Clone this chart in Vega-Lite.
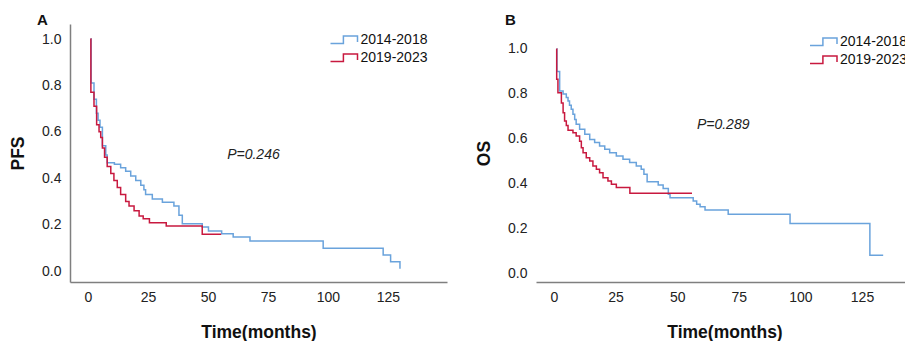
{
  "$schema": "https://vega.github.io/schema/vega-lite/v6.json",
  "padding": {"left": 9, "top": 13, "right": 0, "bottom": 0},
  "background": "white",
  "config": {
    "view": {"stroke": null},
    "font": "Liberation Sans",
    "axis": {"domainColor": "#7f7f7f", "domainWidth": 1.5, "ticks": false, "grid": false, "labelFont": "Liberation Sans", "labelFontSize": 14, "labelColor": "#222222", "titleFont": "Liberation Sans", "titleFontSize": 17.5, "titleFontWeight": "bold", "titleColor": "#111111"},
    "axisX": {"labelPadding": 8.5, "titlePadding": 19},
    "axisY": {"labelPadding": 9, "titlePadding": 14},
    "legend": {"orient": "none", "labelFont": "Liberation Sans", "labelFontSize": 14, "labelColor": "#111111", "symbolType": "M-2.25,0.6H-0.1V-0.65H2.25V0.35", "symbolSize": 144, "symbolStrokeWidth": 1.5, "symbolFillColor": "transparent", "labelOffset": 9.5, "rowPadding": 4, "padding": 0},
    "title": {"font": "Liberation Sans", "fontSize": 15, "fontWeight": "bold", "color": "#111111", "anchor": "start", "frame": "group"}
  },
  "datasets": {
    "pfs": [
      {"g": "2014-2018", "t": 1.0, "s": 1.0}, {"g": "2014-2018", "t": 1.3, "s": 0.81}, {"g": "2014-2018", "t": 2.5, "s": 0.74}, {"g": "2014-2018", "t": 3.5, "s": 0.68}, {"g": "2014-2018", "t": 4.2, "s": 0.65}, {"g": "2014-2018", "t": 5, "s": 0.62}, {"g": "2014-2018", "t": 6, "s": 0.54}, {"g": "2014-2018", "t": 7.4, "s": 0.5}, {"g": "2014-2018", "t": 8, "s": 0.467}, {"g": "2014-2018", "t": 11, "s": 0.46}, {"g": "2014-2018", "t": 13.6, "s": 0.445}, {"g": "2014-2018", "t": 15.7, "s": 0.43}, {"g": "2014-2018", "t": 17.8, "s": 0.41}, {"g": "2014-2018", "t": 19.9, "s": 0.39}, {"g": "2014-2018", "t": 22, "s": 0.37}, {"g": "2014-2018", "t": 23.3, "s": 0.35}, {"g": "2014-2018", "t": 24, "s": 0.33}, {"g": "2014-2018", "t": 26.8, "s": 0.31}, {"g": "2014-2018", "t": 31, "s": 0.296}, {"g": "2014-2018", "t": 35.8, "s": 0.28}, {"g": "2014-2018", "t": 37.9, "s": 0.24}, {"g": "2014-2018", "t": 39.3, "s": 0.204}, {"g": "2014-2018", "t": 47.6, "s": 0.19}, {"g": "2014-2018", "t": 50.2, "s": 0.172}, {"g": "2014-2018", "t": 55.7, "s": 0.161}, {"g": "2014-2018", "t": 60.5, "s": 0.147}, {"g": "2014-2018", "t": 67.5, "s": 0.129}, {"g": "2014-2018", "t": 98, "s": 0.098}, {"g": "2014-2018", "t": 123, "s": 0.069}, {"g": "2014-2018", "t": 126.1, "s": 0.04}, {"g": "2014-2018", "t": 130, "s": 0.01},
      {"g": "2019-2023", "t": 1.0, "s": 1.0}, {"g": "2019-2023", "t": 1.2, "s": 0.77}, {"g": "2019-2023", "t": 2.5, "s": 0.71}, {"g": "2019-2023", "t": 3.6, "s": 0.63}, {"g": "2019-2023", "t": 4.6, "s": 0.6}, {"g": "2019-2023", "t": 5.3, "s": 0.575}, {"g": "2019-2023", "t": 6.0, "s": 0.53}, {"g": "2019-2023", "t": 6.9, "s": 0.49}, {"g": "2019-2023", "t": 8.0, "s": 0.45}, {"g": "2019-2023", "t": 9.5, "s": 0.42}, {"g": "2019-2023", "t": 10.8, "s": 0.39}, {"g": "2019-2023", "t": 12.2, "s": 0.36}, {"g": "2019-2023", "t": 13.6, "s": 0.33}, {"g": "2019-2023", "t": 15.7, "s": 0.3}, {"g": "2019-2023", "t": 17.1, "s": 0.28}, {"g": "2019-2023", "t": 19.2, "s": 0.26}, {"g": "2019-2023", "t": 21.3, "s": 0.237}, {"g": "2019-2023", "t": 23, "s": 0.225}, {"g": "2019-2023", "t": 25.6, "s": 0.208}, {"g": "2019-2023", "t": 32.6, "s": 0.194}, {"g": "2019-2023", "t": 47.6, "s": 0.158}, {"g": "2019-2023", "t": 55.5, "s": 0.158}
    ],
    "os": [
      {"g": "2014-2018", "t": 1, "s": 1.0}, {"g": "2014-2018", "t": 1.2, "s": 0.9}, {"g": "2014-2018", "t": 2.3, "s": 0.813}, {"g": "2014-2018", "t": 3.7, "s": 0.8}, {"g": "2014-2018", "t": 5, "s": 0.784}, {"g": "2014-2018", "t": 5.7, "s": 0.769}, {"g": "2014-2018", "t": 6.3, "s": 0.75}, {"g": "2014-2018", "t": 7, "s": 0.732}, {"g": "2014-2018", "t": 7.7, "s": 0.71}, {"g": "2014-2018", "t": 8.4, "s": 0.687}, {"g": "2014-2018", "t": 9, "s": 0.665}, {"g": "2014-2018", "t": 10.4, "s": 0.643}, {"g": "2014-2018", "t": 12.5, "s": 0.621}, {"g": "2014-2018", "t": 14.5, "s": 0.598}, {"g": "2014-2018", "t": 16.5, "s": 0.584}, {"g": "2014-2018", "t": 18.5, "s": 0.569}, {"g": "2014-2018", "t": 20.6, "s": 0.554}, {"g": "2014-2018", "t": 22.6, "s": 0.539}, {"g": "2014-2018", "t": 25.3, "s": 0.524}, {"g": "2014-2018", "t": 28, "s": 0.51}, {"g": "2014-2018", "t": 30.7, "s": 0.495}, {"g": "2014-2018", "t": 33.4, "s": 0.48}, {"g": "2014-2018", "t": 35.4, "s": 0.465}, {"g": "2014-2018", "t": 36.5, "s": 0.443}, {"g": "2014-2018", "t": 37.8, "s": 0.41}, {"g": "2014-2018", "t": 42.3, "s": 0.395}, {"g": "2014-2018", "t": 44.3, "s": 0.38}, {"g": "2014-2018", "t": 46.4, "s": 0.354}, {"g": "2014-2018", "t": 47.1, "s": 0.339}, {"g": "2014-2018", "t": 56.5, "s": 0.324}, {"g": "2014-2018", "t": 57.9, "s": 0.31}, {"g": "2014-2018", "t": 59.3, "s": 0.299}, {"g": "2014-2018", "t": 61.3, "s": 0.284}, {"g": "2014-2018", "t": 70.7, "s": 0.265}, {"g": "2014-2018", "t": 95.8, "s": 0.224}, {"g": "2014-2018", "t": 128.2, "s": 0.083}, {"g": "2014-2018", "t": 133.6, "s": 0.083},
      {"g": "2019-2023", "t": 1, "s": 1.0}, {"g": "2019-2023", "t": 1.1, "s": 0.865}, {"g": "2019-2023", "t": 1.6, "s": 0.806}, {"g": "2019-2023", "t": 3, "s": 0.76}, {"g": "2019-2023", "t": 3.7, "s": 0.717}, {"g": "2019-2023", "t": 4.3, "s": 0.68}, {"g": "2019-2023", "t": 5, "s": 0.66}, {"g": "2019-2023", "t": 5.7, "s": 0.639}, {"g": "2019-2023", "t": 7.7, "s": 0.628}, {"g": "2019-2023", "t": 9, "s": 0.613}, {"g": "2019-2023", "t": 10.4, "s": 0.59}, {"g": "2019-2023", "t": 11.1, "s": 0.561}, {"g": "2019-2023", "t": 11.8, "s": 0.539}, {"g": "2019-2023", "t": 13.1, "s": 0.517}, {"g": "2019-2023", "t": 14.5, "s": 0.502}, {"g": "2019-2023", "t": 15.8, "s": 0.48}, {"g": "2019-2023", "t": 17.2, "s": 0.465}, {"g": "2019-2023", "t": 18.5, "s": 0.45}, {"g": "2019-2023", "t": 19.9, "s": 0.428}, {"g": "2019-2023", "t": 21.9, "s": 0.413}, {"g": "2019-2023", "t": 23.3, "s": 0.399}, {"g": "2019-2023", "t": 25.3, "s": 0.384}, {"g": "2019-2023", "t": 30.8, "s": 0.359}, {"g": "2019-2023", "t": 56, "s": 0.359}
    ]
  },
  "spacing": 89,
  "bounds": "flush",
  "resolve": {"scale": {"color": "independent", "x": "independent", "y": "independent"}, "legend": {"color": "independent"}},
  "hconcat": [
    {
      "width": 377,
      "height": 258,
      "title": {"text": "A", "dx": -33, "baseline": "alphabetic", "offset": 0, "dy": 16},
      "layer": [
        {
          "data": {"name": "pfs"},
          "mark": {"type": "line", "interpolate": "step-after", "strokeWidth": 1.5},
          "encoding": {
            "x": {"field": "t", "type": "quantitative", "scale": {"domain": [-7.5, 149.6], "nice": false, "zero": false}, "axis": {"values": [0, 25, 50, 75, 100, 125], "title": "Time(months)"}},
            "y": {"field": "s", "type": "quantitative", "scale": {"domain": [-0.0474, 1.0647], "nice": false, "zero": false}, "axis": {"values": [0, 0.2, 0.4, 0.6, 0.8, 1.0], "format": ".1f", "title": "PFS"}},
            "color": {"field": "g", "type": "nominal", "scale": {"domain": ["2014-2018", "2019-2023"], "range": ["#6aa3dc", "#c8193f"]}, "legend": {"title": null, "legendX": 267, "legendY": 9}}
          }
        },
        {
          "data": {"values": [{"label": "P=0.246", "t": 58, "s": 0.5}]},
          "mark": {"type": "text", "align": "left", "baseline": "middle", "fontStyle": "italic", "fontSize": 14, "font": "Liberation Sans", "color": "#222222"},
          "encoding": {"x": {"field": "t", "type": "quantitative"}, "y": {"field": "s", "type": "quantitative"}, "text": {"field": "label"}}
        }
      ]
    },
    {
      "width": 377,
      "height": 258,
      "title": {"text": "B", "dx": -31, "baseline": "alphabetic", "offset": 0, "dy": 16},
      "layer": [
        {
          "data": {"name": "os"},
          "mark": {"type": "line", "interpolate": "step-after", "strokeWidth": 1.5},
          "encoding": {
            "x": {"field": "t", "type": "quantitative", "scale": {"domain": [-7.3, 145.7], "nice": false, "zero": false}, "axis": {"values": [0, 25, 50, 75, 100, 125], "title": "Time(months)"}},
            "y": {"field": "s", "type": "quantitative", "scale": {"domain": [-0.0356, 1.111], "nice": false, "zero": false}, "axis": {"values": [0, 0.2, 0.4, 0.6, 0.8, 1.0], "format": ".1f", "title": "OS", "domain": false}},
            "color": {"field": "g", "type": "nominal", "scale": {"domain": ["2014-2018", "2019-2023"], "range": ["#6aa3dc", "#c8193f"]}, "legend": {"title": null, "legendX": 280.5, "legendY": 11}}
          }
        },
        {
          "mark": {"type": "rule", "color": "#7f7f7f", "strokeWidth": 1.5},
          "encoding": {"x": {"datum": -7.3}, "y": {"datum": -0.0356}, "y2": {"datum": 1.067}}
        },
        {
          "data": {"values": [{"label": "P=0.289", "t": 58, "s": 0.661}]},
          "mark": {"type": "text", "align": "left", "baseline": "middle", "fontStyle": "italic", "fontSize": 14, "font": "Liberation Sans", "color": "#222222"},
          "encoding": {"x": {"field": "t", "type": "quantitative"}, "y": {"field": "s", "type": "quantitative"}, "text": {"field": "label"}}
        }
      ]
    }
  ]
}
